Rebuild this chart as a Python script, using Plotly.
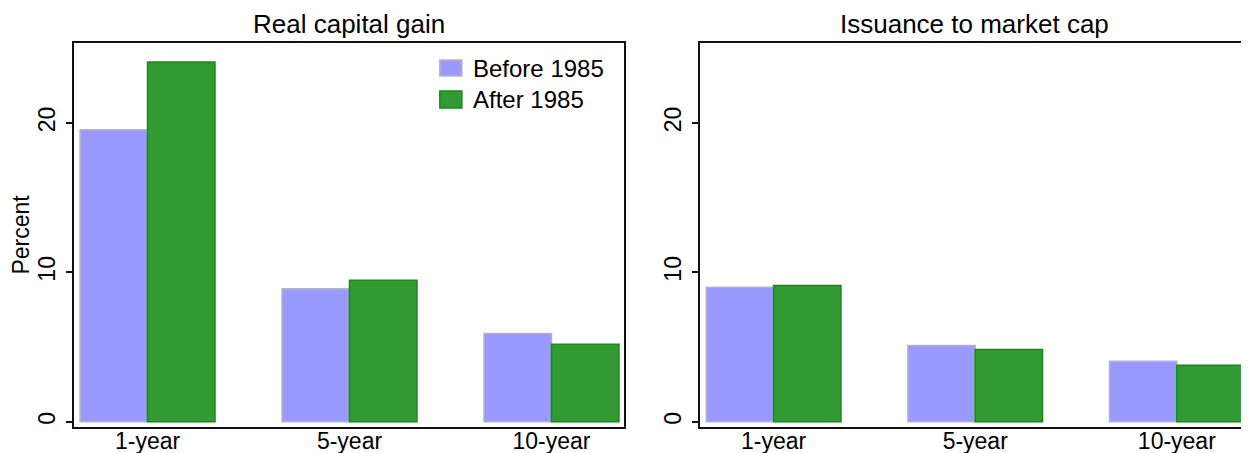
import plotly.graph_objects as go

categories = ["1-year", "5-year", "10-year"]
series_names = ["Before 1985", "After 1985"]
gain_before = [19.55, 8.9, 5.9]
gain_after = [24.07, 9.47, 5.18]
issue_before = [9.0, 5.1, 4.05]
issue_after = [9.12, 4.84, 3.78]
panel_titles = ["Real capital gain", "Issuance to market cap"]
y_ticks = [0, 10, 20]

FONT = "Liberation Sans, Arial, sans-serif"
fill_colors = ["#9999ff", "#339933"]
line_colors = ["#b4b4c4", "#148c14"]

fig = go.Figure()
for vals, xa, ya in [((gain_before, gain_after), "x", "y"), ((issue_before, issue_after), "x2", "y2")]:
    for i, v in enumerate(vals):
        fig.add_trace(go.Bar(
            x=categories, y=v, name=series_names[i], xaxis=xa, yaxis=ya,
            marker=dict(color=fill_colors[i], line=dict(color=line_colors[i], width=1.5)),
            showlegend=False,
        ))

# page has an 8px body margin; figure coordinates are offset by it
OFF = 8
PAGE_W, PAGE_H = 1249, 453
W, H = PAGE_W - OFF, PAGE_H - OFF
# target plot area in page pixels
P_L, P_R1, P_L2, P_T, P_B = 73.5, 623.5, 700.0, 43.0, 427.0
L = P_L - OFF
T = P_T - OFF
B = PAGE_H - P_B
R = 0
pw = W - L - R
ph = H - T - B
d1 = [0, (P_R1 - P_L) / pw]
d2 = [(P_L2 - P_L) / pw, 1]

xcommon = dict(type="category", categoryorder="array", categoryarray=categories,
               range=[-0.364, 2.358], showline=True, linecolor="#111", linewidth=2,
               ticks="", showgrid=False, zeroline=False, automargin=False,
               ticklabelstandoff=-8,
               tickfont=dict(family=FONT, size=23, color="#000"))
ycommon = dict(range=[-0.355, 25.35], tickvals=y_ticks, ticks="outside", ticklen=6,
               tickwidth=1.5, tickcolor="#111", showline=True, linecolor="#111", linewidth=2,
               showgrid=False, zeroline=False, tickangle=-90, automargin=False,
               ticklabelstandoff=2,
               tickfont=dict(family=FONT, size=23, color="#000"))

fig.update_layout(
    width=W, height=H, margin=dict(l=L, r=R, t=T, b=B, autoexpand=False),
    paper_bgcolor="white", plot_bgcolor="white",
    barmode="group", bargap=0.332, bargroupgap=0,
    xaxis=dict(domain=d1, anchor="y", mirror=True, **xcommon),
    yaxis=dict(domain=[0, 1], anchor="x", mirror=True,
               title=dict(text="Percent", font=dict(family=FONT, size=23, color="#000"), standoff=2),
               **ycommon),
    xaxis2=dict(domain=d2, anchor="y2", mirror=True, **xcommon),
    yaxis2=dict(domain=[0, 1], anchor="x2", mirror=False, **ycommon),
    showlegend=False,
)

# subplot titles
for i, t in enumerate(panel_titles):
    xref = "x domain" if i == 0 else "x2 domain"
    fig.add_annotation(text=t, xref=xref, yref="paper", x=0.5, y=1 + (P_T - 23.5) / ph,
                       xanchor="center", yanchor="middle", showarrow=False,
                       font=dict(family=FONT, size=26, color="#000"))

# legend (drawn inside left panel, top-right), positions in page pixels
leg_y = [(60, 76), (91, 108)]
pw1 = P_R1 - P_L
for i, name in enumerate(series_names):
    y0 = (P_B - leg_y[i][1]) / ph
    y1 = (P_B - leg_y[i][0]) / ph
    fig.add_shape(type="rect", xref="x domain", yref="y domain",
                  x0=(439.5 - P_L) / pw1, x1=(461.5 - P_L) / pw1, y0=y0, y1=y1,
                  fillcolor=fill_colors[i], line=dict(color=line_colors[i], width=1.5))
    fig.add_annotation(text=name, xref="x domain", yref="y domain",
                       x=(471 - P_L) / pw1, y=(y0 + y1) / 2, xanchor="left", yanchor="middle",
                       showarrow=False, font=dict(family=FONT, size=24, color="#000"))

fig.write_html("out.html")
